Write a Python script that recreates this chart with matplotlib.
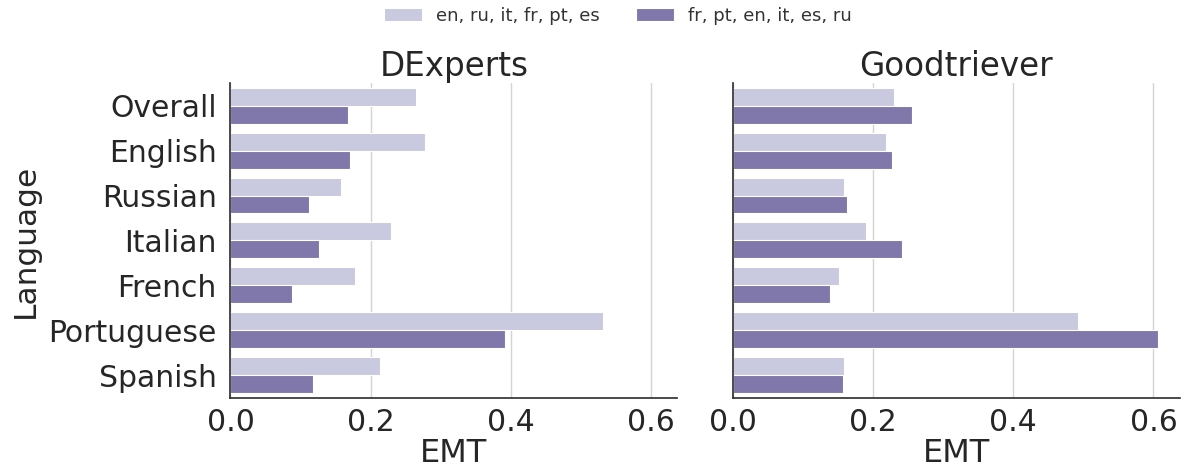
import numpy as np
import matplotlib
matplotlib.use("Agg")
import matplotlib.pyplot as plt
import seaborn as sns

languages = ["Overall", "English", "Russian", "Italian", "French", "Portuguese", "Spanish"]
orders = ["en, ru, it, fr, pt, es", "fr, pt, en, it, es, ru"]
models = ["DExperts", "Goodtriever"]

# EMT per language, one list per language order
dexperts_order1 = [0.265, 0.278, 0.158, 0.229, 0.178, 0.532, 0.214]
dexperts_order2 = [0.168, 0.171, 0.112, 0.127, 0.088, 0.392, 0.118]
goodtriever_order1 = [0.230, 0.218, 0.159, 0.190, 0.151, 0.492, 0.158]
goodtriever_order2 = [0.255, 0.227, 0.163, 0.241, 0.138, 0.607, 0.157]

colors = ["#c9c9df", "#8078aa"]

sns.set_theme(style="whitegrid")
plt.rcParams['font.family'] = ['DejaVu Sans']

fig, axes = plt.subplots(1, 2, figsize=(11.88, 4.72), dpi=100, sharex=True, sharey=True)
fig.subplots_adjust(left=0.194, right=0.993, top=0.824, bottom=0.157, wspace=0.125)

data = {"DExperts": [dexperts_order1, dexperts_order2],
        "Goodtriever": [goodtriever_order1, goodtriever_order2]}

y = np.arange(len(languages))
h = 0.4
for ax, model in zip(axes, models):
    for i, vals in enumerate(data[model]):
        ax.barh(y - h / 2 + i * h, vals, height=h, color=colors[i],
                edgecolor="white", linewidth=0.8, label=orders[i])
    ax.set_title(model, fontsize=23.5, color="#262626", pad=5)
    ax.set_xlabel("EMT", fontsize=23, color="#262626", labelpad=1)
    ax.set_ylim(len(languages) - 0.5, -0.5)
    ax.grid(axis="y", visible=False)
    ax.grid(axis="x", color="#d4d4d4", linewidth=1)
    ax.tick_params(axis="both", labelsize=21.5, colors="#262626", length=0, pad=7)
    for s in ["top", "right"]:
        ax.spines[s].set_visible(False)
    for s in ["left", "bottom"]:
        ax.spines[s].set_color("#333333")
        ax.spines[s].set_linewidth(1.25)

axes[0].set_xlim(0, 0.6375)
axes[0].set_xticks([0.0, 0.2, 0.4, 0.6])
axes[0].set_yticks(y)
axes[0].set_yticklabels(languages)
axes[0].tick_params(axis="y", pad=10)
axes[0].set_ylabel("Language", fontsize=22.5, color="#262626", labelpad=6)
axes[1].tick_params(axis="y", left=False)

handles, labels = axes[0].get_legend_handles_labels()
fig.legend(handles, labels, loc="upper center", ncol=2, frameon=False,
           fontsize=13, bbox_to_anchor=(0.52, 1.02), handlelength=2.1,
           handletextpad=0.8, columnspacing=2.0, labelcolor="#333333")

fig.savefig("out.png", dpi=100)
